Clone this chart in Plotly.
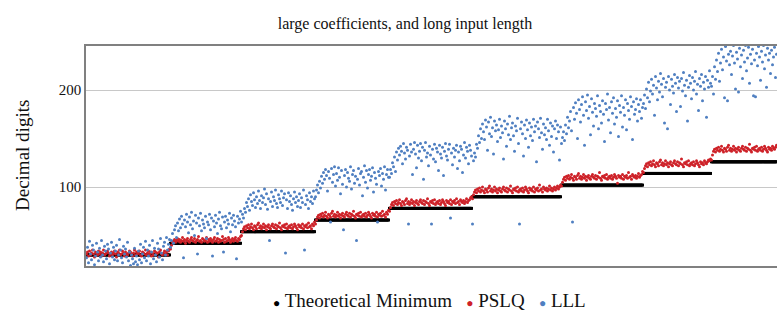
import plotly.graph_objects as go

# Theoretical minimum (decimal digits) for each block of runs
tm_levels = [30, 42, 54, 66, 78, 90, 102, 114, 126]

# PSLQ: digits needed per run, one list per block
pslq_g1 = [31, 33, 29, 34, 30, 32, 35, 31, 28, 33,
           32, 30, 34, 31, 33, 29, 32, 35, 30, 31,
           33, 34, 32, 29, 31, 33, 30, 32, 34, 31,
           28, 33, 32, 35, 30, 31, 34, 32, 29, 33,
           31, 30, 32, 34, 33, 31, 29, 32, 35, 30,
           33, 31, 32, 34, 30, 29, 33, 32, 31, 35,
           30, 32, 34, 31, 33, 29, 32, 30, 34, 33,
           31, 32, 28, 33, 35, 31, 30, 32, 34, 31,
           33, 30, 34, 36]
pslq_g2 = [36, 40, 43, 44, 46, 43, 45, 47, 44, 46,
           43, 45, 48, 44, 46, 42, 45, 47, 44, 43,
           46, 48, 45, 44, 47, 43, 45, 46, 49, 44,
           45, 43, 47, 46, 44, 45, 48, 43, 46, 44,
           47, 45, 43, 46, 48, 44, 45, 47, 43, 46,
           44, 45, 49, 46, 43, 47, 44, 45, 48, 46,
           43, 45, 47, 44, 46, 48, 45, 44, 47, 46,
           49]
pslq_g3 = [50, 54, 57, 59, 56, 60, 58, 61, 57, 59,
           62, 58, 56, 60, 59, 57, 61, 63, 58, 60,
           57, 59, 62, 58, 60, 56, 59, 61, 58, 57,
           60, 62, 59, 58, 61, 57, 60, 59, 63, 58,
           56, 60, 59, 61, 58, 62, 57, 59, 60, 58,
           61, 57, 59, 62, 60, 58, 56, 61, 59, 60,
           58, 62, 57, 60, 59, 61, 58, 63, 59, 60,
           57, 62, 60, 64]
pslq_g4 = [62, 66, 69, 71, 68, 72, 70, 73, 69, 71,
           74, 70, 68, 72, 71, 69, 73, 75, 70, 72,
           69, 71, 74, 70, 72, 68, 71, 73, 70, 69,
           72, 74, 71, 70, 73, 69, 72, 71, 75, 70,
           68, 72, 71, 73, 70, 74, 69, 71, 72, 70,
           73, 69, 71, 74, 72, 70, 68, 73, 71, 72,
           70, 74, 69, 72, 71, 73, 70, 75, 71, 72,
           69, 74, 72, 76]
pslq_g5 = [75, 79, 82, 84, 81, 85, 83, 86, 82, 84,
           87, 83, 81, 85, 84, 82, 86, 88, 83, 85,
           82, 84, 87, 83, 85, 81, 84, 86, 83, 82,
           85, 87, 84, 83, 86, 82, 85, 84, 88, 83,
           81, 85, 84, 86, 83, 87, 82, 84, 85, 83,
           86, 82, 84, 87, 85, 83, 81, 86, 84, 85,
           83, 87, 82, 85, 84, 86, 83, 88, 84, 85,
           82, 87, 85, 84, 86, 83, 85, 88, 84, 86,
           87, 89, 90]
pslq_g6 = [88, 92, 95, 97, 94, 98, 96, 99, 95, 97,
           100, 96, 94, 98, 97, 95, 99, 101, 96, 98,
           95, 97, 100, 96, 98, 94, 97, 99, 96, 95,
           98, 100, 97, 96, 99, 95, 98, 97, 101, 96,
           94, 98, 97, 99, 96, 100, 95, 97, 98, 96,
           99, 95, 97, 100, 98, 96, 94, 99, 97, 98,
           96, 100, 95, 98, 97, 99, 96, 102, 97, 98,
           95, 100, 98, 97, 99, 96, 98, 101, 97, 99,
           96, 98, 100, 97, 99, 101, 98, 100, 102]
pslq_g7 = [101, 105, 108, 110, 107, 111, 109, 112, 108, 110,
           113, 109, 107, 111, 110, 108, 112, 114, 109, 111,
           108, 110, 113, 109, 111, 107, 110, 112, 109, 108,
           111, 113, 110, 109, 112, 108, 111, 110, 115, 109,
           107, 111, 110, 112, 109, 113, 108, 110, 111, 109,
           112, 108, 110, 113, 111, 109, 104, 112, 110, 111,
           109, 113, 108, 111, 110, 112, 109, 115, 110, 111,
           108, 113, 111, 110, 112, 109, 111, 114, 110, 112,
           113, 116]
pslq_g8 = [115, 119, 122, 124, 121, 125, 123, 126, 122, 124,
           127, 123, 121, 125, 124, 122, 126, 128, 123, 125,
           122, 124, 127, 123, 125, 121, 124, 126, 123, 122,
           125, 127, 124, 123, 126, 122, 125, 124, 129, 123,
           121, 125, 124, 126, 123, 127, 122, 124, 125, 123,
           126, 122, 124, 127, 125, 123, 121, 126, 124, 125,
           123, 127, 125, 124, 126, 128, 127, 129]
pslq_g9 = [128, 133, 137, 139, 136, 140, 138, 141, 137, 139,
           142, 138, 136, 140, 139, 137, 141, 143, 138, 140,
           137, 139, 142, 138, 140, 136, 139, 141, 138, 137,
           140, 142, 139, 138, 141, 137, 140, 139, 144, 138,
           136, 140, 139, 141, 138, 142, 137, 139, 140, 138,
           141, 137, 139, 142, 140, 138, 136, 141, 139, 140,
           138, 142, 140, 139, 141, 143]

# LLL: digits needed per run, one list per block
lll_g1 = [27, 38, 22, 44, 31, 25, 40, 35, 20, 29,
          42, 33, 24, 37, 28, 45, 30, 23, 39, 34,
          26, 41, 36, 21, 32, 43, 28, 38, 25, 34,
          40, 24, 30, 46, 35, 27, 22, 39, 31, 36,
          28, 43, 24, 33, 19, 30, 26, 21, 37, 23,
          29, 20, 34, 25, 41, 22, 31, 38, 27, 44,
          24, 35, 29, 40, 21, 33, 45, 26, 37, 30,
          23, 42, 36, 28, 47, 32, 25, 39, 43, 30,
          48, 35, 41, 46]
lll_g2 = [38, 45, 52, 42, 56, 60, 48, 63, 55, 67,
          58, 70, 62, 27, 66, 59, 72, 64, 53, 69,
          61, 74, 57, 65, 50, 71, 63, 31, 68, 60,
          73, 55, 66, 62, 58, 70, 47, 64, 61, 72,
          56, 68, 29, 65, 59, 71, 63, 52, 67, 74,
          60, 57, 69, 33, 64, 70, 58, 66, 62, 73,
          54, 68, 61, 71, 65, 59, 26, 70, 63, 67,
          75]
lll_g3 = [64, 72, 68, 78, 74, 84, 80, 88, 76, 92,
          85, 81, 94, 87, 79, 90, 83, 96, 86, 78,
          91, 84, 89, 98, 82, 93, 77, 88, 45, 85,
          95, 80, 90, 86, 97, 83, 79, 92, 88, 84,
          96, 81, 89, 93, 32, 87, 78, 94, 85, 91,
          82, 76, 88, 95, 84, 90, 80, 86, 93, 79,
          89, 84, 97, 35, 82, 91, 87, 78, 94, 85,
          90, 83, 96, 88]
lll_g4 = [90, 97, 102, 94, 106, 99, 111, 104, 115, 108,
          118, 112, 96, 116, 109, 64, 119, 105, 113, 121,
          101, 114, 107, 120, 110, 93, 117, 103, 56, 112,
          118, 100, 115, 109, 106, 121, 98, 113, 117, 104,
          111, 45, 108, 119, 102, 114, 116, 91, 110, 122,
          105, 117, 99, 113, 118, 107, 111, 120, 95, 115,
          109, 103, 64, 116, 112, 119, 101, 114, 108, 121,
          97, 113, 118, 110]
lll_g5 = [110, 118, 114, 125, 121, 131, 116, 136, 128, 140,
          133, 142, 137, 124, 145, 135, 129, 141, 138, 62,
          132, 144, 136, 113, 139, 146, 134, 120, 143, 130,
          137, 145, 127, 141, 108, 138, 146, 131, 135, 122,
          142, 133, 62, 139, 129, 144, 126, 140, 136, 117,
          143, 134, 130, 141, 112, 137, 145, 132, 128, 139,
          144, 68, 135, 123, 140, 131, 138, 143, 119, 136,
          127, 142, 139, 115, 133, 146, 130, 141, 137, 124,
          143, 138, 132]
lll_g6 = [62, 127, 135, 131, 144, 140, 153, 146, 160, 150,
          165, 157, 149, 169, 162, 138, 167, 155, 172, 152,
          161, 134, 168, 158, 164, 147, 159, 170, 151, 163,
          156, 129, 168, 160, 142, 165, 154, 173, 149, 161,
          166, 153, 137, 163, 158, 171, 145, 62, 160, 167,
          155, 132, 164, 150, 169, 159, 141, 166, 153, 162,
          148, 170, 157, 163, 126, 167, 160, 151, 171, 156,
          139, 165, 154, 161, 149, 170, 158, 143, 166, 152,
          163, 136, 160, 168, 150, 164, 157, 128, 162]
lll_g7 = [145, 151, 157, 148, 164, 155, 172, 161, 168, 178,
          158, 64, 182, 170, 187, 176, 150, 190, 180, 167,
          185, 193, 174, 143, 188, 179, 195, 171, 183, 154,
          191, 177, 163, 186, 181, 173, 194, 160, 184, 178,
          166, 189, 175, 147, 186, 180, 196, 169, 182, 156,
          188, 176, 192, 165, 181, 172, 189, 152, 184, 177,
          194, 162, 182, 174, 190, 159, 186, 179, 170, 193,
          183, 149, 188, 175, 180, 191, 168, 185, 178, 190,
          171, 182]
lll_g8 = [186, 195, 181, 201, 192, 208, 188, 199, 211, 196,
          205, 174, 214, 202, 190, 209, 198, 217, 206, 193,
          212, 166, 203, 208, 160, 214, 200, 185, 211, 204,
          197, 216, 207, 178, 213, 202, 209, 183, 212, 199,
          218, 205, 194, 210, 168, 203, 215, 207, 191, 213,
          200, 209, 219, 196, 206, 179, 212, 204, 216, 189,
          208, 201, 214, 172, 210, 203, 220, 207]
lll_g9 = [204, 214, 196, 224, 211, 231, 219, 238, 209, 228,
          242, 221, 234, 192, 245, 230, 189, 237, 226, 240,
          216, 235, 246, 228, 201, 239, 232, 198, 243, 224,
          236, 212, 241, 229, 246, 220, 233, 244, 207, 237,
          227, 242, 194, 231, 193, 238, 225, 245, 234, 210,
          240, 229, 246, 222, 236, 203, 243, 231, 238, 217,
          241, 226, 234, 244, 213, 237]

pslq_groups = [pslq_g1, pslq_g2, pslq_g3, pslq_g4, pslq_g5,
               pslq_g6, pslq_g7, pslq_g8, pslq_g9]
lll_groups = [lll_g1, lll_g2, lll_g3, lll_g4, lll_g5,
              lll_g6, lll_g7, lll_g8, lll_g9]

pslq, lll, tmin = [], [], []
for level, p, l in zip(tm_levels, pslq_groups, lll_groups):
    pslq += p
    lll += l
    tmin += [level] * len(p)
runs = list(range(len(pslq)))

FONT = '"Liberation Serif", "Times New Roman", serif'
INK = "#111111"
RED = "#CE2128"
BLUE = "#4F7FC1"

fig = go.Figure()
fig.add_trace(go.Scatter(x=runs, y=tmin, mode="markers", name="Theoretical Minimum",
                         marker=dict(symbol="square", size=3, color="#000000", line_width=0)))
fig.add_trace(go.Scatter(x=runs, y=pslq, mode="markers", name="PSLQ",
                         marker=dict(size=3, color=RED, line_width=0)))
fig.add_trace(go.Scatter(x=runs, y=lll, mode="markers", name="LLL",
                         marker=dict(size=3, color=BLUE, line_width=0)))

legend_text = (
    '<span style="color:#000000;font-size:12px">●</span> Theoretical Minimum'
    '\u00a0\u00a0\u00a0'
    f'<span style="color:{RED};font-size:12px">●</span> PSLQ'
    '\u00a0\u00a0\u00a0'
    f'<span style="color:{BLUE};font-size:12px">●</span> LLL'
)

fig.update_layout(
    width=777, height=321,
    margin=dict(l=86, r=0, t=46, b=55),
    paper_bgcolor="white", plot_bgcolor="white",
    showlegend=False,
    font=dict(family=FONT, color=INK),
    title=dict(text="large coefficients, and long input length",
               x=(405 - 86) / 691, xref="paper", xanchor="center",
               y=1 - 23 / 321, yref="container", yanchor="middle",
               font=dict(family=FONT, size=16, color=INK)),
    xaxis=dict(range=[-0.5, len(runs) - 0.5], showgrid=False, zeroline=False,
               showticklabels=False, ticks="", showline=True, mirror=True,
               linecolor="#808080", linewidth=1.5),
    yaxis=dict(range=[18.6, 245.4], tickvals=[100, 200], ticktext=["100", "200"],
               showgrid=True, gridcolor="#C8C8C8", gridwidth=1, zeroline=False,
               ticks="", showline=True, linecolor="#808080", linewidth=1.5,
               tickfont=dict(family=FONT, size=15, color=INK)),
    annotations=[
        dict(text="Decimal digits", textangle=-90, showarrow=False,
             xref="paper", yref="paper", x=(22 - 86) / 691, y=0.5,
             xanchor="center", yanchor="middle",
             font=dict(family=FONT, size=19, color=INK)),
        dict(text=legend_text, showarrow=False, xref="paper", yref="paper",
             x=(429 - 86) / 691, y=-(300 - 266) / 220, xanchor="center", yanchor="middle",
             font=dict(family=FONT, size=19, color=INK)),
    ],
)

fig.write_html("out.html")
